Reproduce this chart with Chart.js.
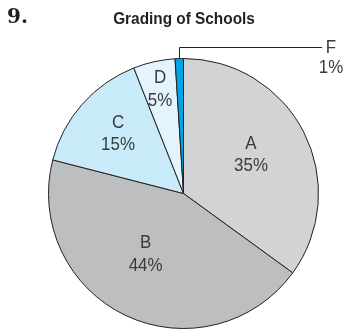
<!DOCTYPE html>
<html>
<head>
<meta charset="utf-8">
<script src="https://cdn.jsdelivr.net/npm/chart.js@4.4.0/dist/chart.umd.min.js"></script>
<style>
  body { margin: 0; background: #fff; }
  #wrap { position: relative; width: 343px; height: 330px; overflow: hidden; }
  #chart { position: absolute; left: 0; top: 0; }
  #num {
    position: absolute; left: 7px; top: 4px;
    font: bold 20px "DejaVu Serif", serif; color: #231f20;
  }
  #title {
    position: absolute; left: 0; top: 10px; width: 368px; text-align: center;
    font: bold 16px "Liberation Sans", Arial, sans-serif;
    color: #231f20; transform: scaleX(0.96); transform-origin: 184px 0;
  }
</style>
</head>
<body>
<div id="wrap">
  <canvas id="chart" width="343" height="330"></canvas>
  <div id="num">9.</div>
  <div id="title">Grading of Schools</div>
</div>
<script>
// Grades and their share of schools (percent)
const grades = ['A', 'B', 'C', 'D', 'F'];
const shares = [35, 44, 15, 5, 1];
const sliceColors = ['#d1d3d4', '#bcbec0', '#c8eaf9', '#e4f4fc', '#00a5e5'];

// where each inside label sits, as a fraction of the radius from the centre
const labelSpots = [[0.50, -0.285], [-0.281, 0.452], [-0.485, -0.441], [-0.174, -0.77]];

function drawLabel(ctx, x, y, lines, lineGap) {
  ctx.save();
  ctx.translate(x, y);
  ctx.scale(0.94, 1);
  lines.forEach((t, i) => {
    ctx.fillText(t, 0, (i - (lines.length - 1) / 2) * lineGap);
  });
  ctx.restore();
}

const sliceLabels = {
  id: 'sliceLabels',
  afterDatasetsDraw(chart) {
    const ctx = chart.ctx;
    const arcs = chart.getDatasetMeta(0).data;
    const cx = arcs[0].x, cy = arcs[0].y, r = arcs[0].outerRadius;
    ctx.save();
    ctx.fillStyle = '#3a3a3c';
    ctx.font = '18px "Liberation Sans", Arial, sans-serif';
    ctx.textAlign = 'center';
    ctx.textBaseline = 'middle';
    labelSpots.forEach((p, i) => {
      drawLabel(ctx, cx + p[0] * r, cy + p[1] * r, [grades[i], shares[i] + '%'], 22.5);
    });

    // leader line for the small F slice
    const last = arcs[arcs.length - 1];
    const mid = (last.startAngle + last.endAngle) / 2;
    const lx = last.x + Math.cos(mid) * last.outerRadius;
    const ly = last.y + Math.sin(mid) * last.outerRadius;
    ctx.strokeStyle = '#231f20';
    ctx.lineWidth = 1;
    ctx.beginPath();
    ctx.moveTo(Math.round(lx) + 0.5, ly);
    ctx.lineTo(Math.round(lx) + 0.5, 47.5);
    ctx.lineTo(322, 47.5);
    ctx.stroke();
    drawLabel(ctx, 331, 58.5, [grades[4], shares[4] + '%'], 20);
    ctx.restore();
  }
};

new Chart(document.getElementById('chart'), {
  type: 'pie',
  data: {
    labels: grades,
    datasets: [{
      data: shares,
      backgroundColor: sliceColors,
      borderColor: '#231f20',
      borderWidth: 1
    }]
  },
  options: {
    responsive: false,
    animation: false,
    devicePixelRatio: 1,
    layout: { padding: { left: 48, right: 24, top: 58, bottom: 1 } },
    plugins: {
      legend: { display: false },
      tooltip: { enabled: false }
    }
  },
  plugins: [sliceLabels]
});
</script>
</body>
</html>
